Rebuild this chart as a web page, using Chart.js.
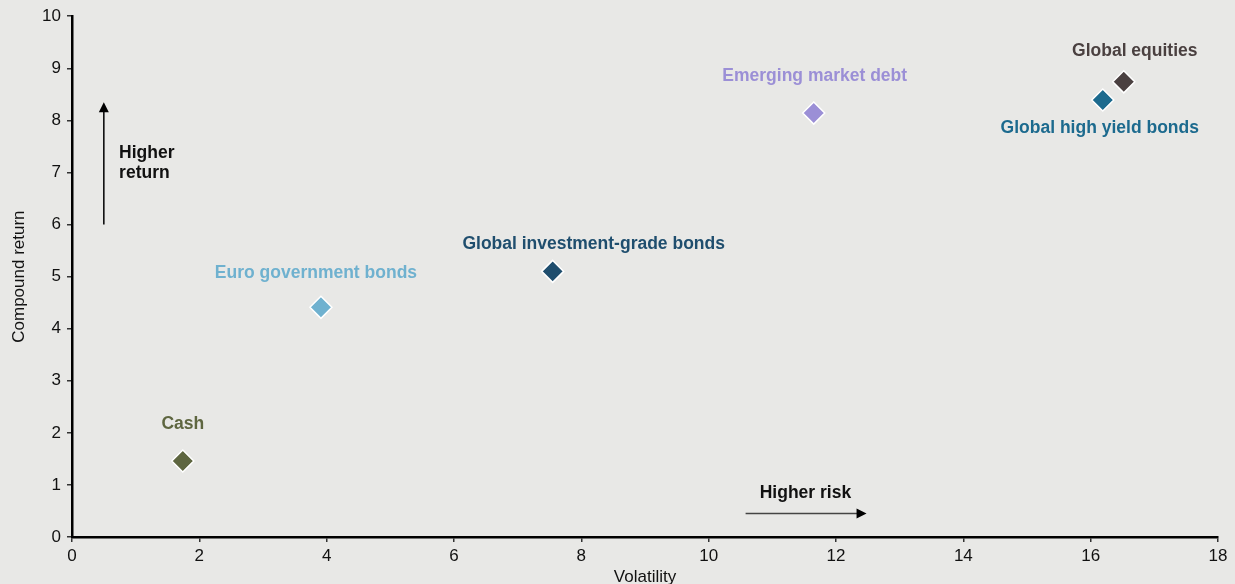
<!DOCTYPE html>
<html>
<head>
<meta charset="utf-8">
<script src="https://cdn.jsdelivr.net/npm/chart.js@4/dist/chart.umd.min.js"></script>
<style>
  html, body { margin: 0; padding: 0; background: #e8e8e6; }
  #wrap { width: 1235px; height: 584px; }
</style>
</head>
<body>
<div id="wrap"><canvas id="chart"></canvas></div>
<script>
// asset classes: volatility (x) vs compound return (y)
var names = ['Cash', 'Euro government bonds', 'Global investment-grade bonds',
  'Emerging market debt', 'Global high yield bonds', 'Global equities'];
var volatility = [1.74, 3.91, 7.55, 11.65, 16.19, 16.52];
var compoundReturn = [1.46, 4.41, 5.10, 8.14, 8.39, 8.74];
var colors = ['#5e6640', '#6fb1cf', '#1f4e6e', '#9b8fd6', '#1c6a8e', '#4a4040'];
var xTicks = [0, 2, 4, 6, 8, 10, 12, 14, 16, 18];
var yTicks = [0, 1, 2, 3, 4, 5, 6, 7, 8, 9, 10];

// label placement relative to each point (pixels)
var labelOffsets = [[0, -37], [-5, -34], [41, -27], [1, -37], [-3, 28], [11, -31]];

var FONT = '"Liberation Sans", Arial, sans-serif';

var points = volatility.map(function(v, i) {
  return { x: v, y: compoundReturn[i] };
});

var annotations = {
  id: 'annotations',
  afterDatasetsDraw: function(chart) {
    var ctx = chart.ctx;
    var xs = chart.scales.x, ys = chart.scales.y;
    var meta = chart.getDatasetMeta(0);
    ctx.save();
    ctx.font = 'bold 17.5px ' + FONT;
    ctx.textAlign = 'center';
    ctx.textBaseline = 'middle';
    meta.data.forEach(function(el, i) {
      ctx.fillStyle = colors[i];
      ctx.fillText(names[i], el.x + labelOffsets[i][0], el.y + labelOffsets[i][1]);
    });

    // higher return arrow
    var ax = xs.getPixelForValue(0.5);
    var y0 = ys.getPixelForValue(6.0), y1 = ys.getPixelForValue(8.35);
    ctx.strokeStyle = '#000';
    ctx.fillStyle = '#000';
    ctx.lineWidth = 1.5;
    ctx.beginPath(); ctx.moveTo(ax, y0); ctx.lineTo(ax, y1 + 8); ctx.stroke();
    ctx.beginPath(); ctx.moveTo(ax, y1); ctx.lineTo(ax - 5, y1 + 10); ctx.lineTo(ax + 5, y1 + 10); ctx.closePath(); ctx.fill();
    ctx.textAlign = 'left';
    ctx.fillStyle = '#111';
    ctx.fillText('Higher', xs.getPixelForValue(0.74), ys.getPixelForValue(7.37));
    ctx.fillText('return', xs.getPixelForValue(0.74), ys.getPixelForValue(6.99));

    // higher risk arrow
    var ry = ys.getPixelForValue(0.45);
    var x0 = xs.getPixelForValue(10.58), x1 = xs.getPixelForValue(12.48);
    ctx.strokeStyle = '#444';
    ctx.lineWidth = 1.5;
    ctx.beginPath(); ctx.moveTo(x0, ry); ctx.lineTo(x1 - 8, ry); ctx.stroke();
    ctx.fillStyle = '#000';
    ctx.beginPath(); ctx.moveTo(x1, ry); ctx.lineTo(x1 - 10, ry - 5); ctx.lineTo(x1 - 10, ry + 5); ctx.closePath(); ctx.fill();
    ctx.textAlign = 'center';
    ctx.fillStyle = '#111';
    ctx.fillText('Higher risk', xs.getPixelForValue(11.52), ys.getPixelForValue(0.85));
    ctx.restore();
  }
};

var ctx = document.getElementById('chart').getContext('2d');
var chart = new Chart(ctx, {
  type: 'scatter',
  data: {
    datasets: [{
      label: 'Asset classes',
      data: points,
      pointStyle: 'rectRot',
      pointRadius: 11,
      pointHoverRadius: 11,
      backgroundColor: colors,
      borderColor: '#ffffff',
      borderWidth: 1.5
    }]
  },
  options: {
    responsive: true,
    maintainAspectRatio: false,
    animation: false,
    layout: { padding: { top: 15, right: 17, left: 9, bottom: 0 } },
    plugins: {
      legend: { display: false },
      tooltip: { enabled: false }
    },
    scales: {
      x: {
        type: 'linear',
        min: 0, max: 18,
        afterBuildTicks: function(s) { s.ticks = xTicks.map(function(v) { return { value: v }; }); },
        afterFit: function(s) { s.height = 47; },
        border: { color: '#000', width: 2.5 },
        grid: { drawOnChartArea: false, drawTicks: true, tickLength: 5, color: '#333', lineWidth: 1.5 },
        ticks: { color: '#111', font: { family: FONT, size: 17 }, padding: 4 },
        title: { display: true, text: 'Volatility', color: '#111', font: { family: FONT, size: 17 }, padding: { top: 0, bottom: -4 } }
      },
      y: {
        type: 'linear',
        min: 0, max: 10,
        afterBuildTicks: function(s) { s.ticks = yTicks.map(function(v) { return { value: v }; }); },
        afterFit: function(s) { s.width = 63; },
        border: { color: '#000', width: 2.5 },
        grid: { drawOnChartArea: false, drawTicks: true, tickLength: 5, color: '#333', lineWidth: 1.5 },
        ticks: { color: '#111', font: { family: FONT, size: 17 }, padding: 6 },
        title: { display: true, text: 'Compound return', color: '#111', font: { family: FONT, size: 17 }, padding: { top: 0, bottom: 0 } }
      }
    }
  },
  plugins: [annotations]
});
</script>
</body>
</html>
